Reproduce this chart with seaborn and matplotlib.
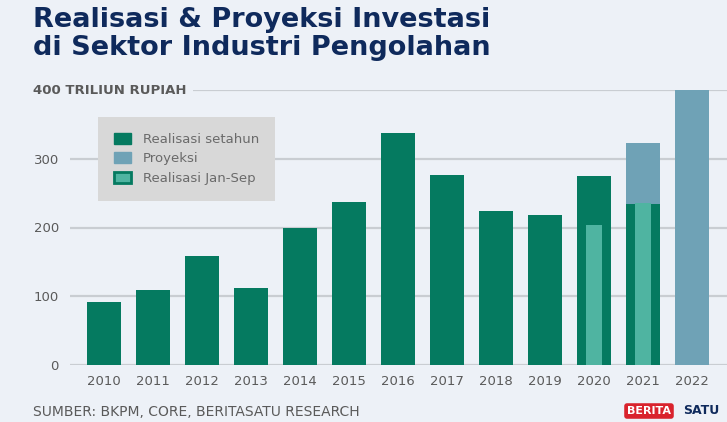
import matplotlib
matplotlib.use("Agg")
import matplotlib.pyplot as plt
import seaborn as sns
import pandas as pd
from matplotlib.patches import Patch

years = ["2010", "2011", "2012", "2013", "2014", "2015", "2016", "2017", "2018", "2019", "2020", "2021", "2022"]
real_years = ["2010", "2011", "2012", "2013", "2014", "2015", "2016", "2017", "2018", "2019", "2020", "2021"]
realisasi = [92, 109, 158, 112, 200, 237, 337, 276, 224, 218, 275, 234]
proj_years = ["2021", "2022"]
proyeksi = [323, 400]
jansep_years = ["2020", "2021"]
jansep = [203, 235]
yticks = [0, 100, 200, 300, 400]
ytick_labels = ["0", "100", "200", "300", "400 TRILIUN RUPIAH"]

BG = "#edf1f7"
DARK = "#057a60"
PROJ = "#6fa2b6"
LIGHT = "#4fb4a1"
NAVY = "#0f2a5c"
GRAY = "#5a5a5a"

sns.set_theme(style="white")
plt.rcParams["font.family"] = ["DejaVu Sans"]

fig = plt.figure(figsize=(7.27, 4.22), dpi=100, facecolor=BG)
ax = fig.add_axes([70 / 727, (422 - 365) / 422, 657 / 727, (365 - 90) / 422])
ax.set_facecolor(BG)

for y in yticks:
    ax.axhline(y, xmin=0, xmax=1, color="#c9cdd2", lw=1.6, zorder=0)

sns.barplot(x=proj_years, y=proyeksi, order=years, color=PROJ, width=0.69,
            saturation=1, linewidth=0, ax=ax, zorder=2)
sns.barplot(x=real_years, y=realisasi, order=years, color=DARK, width=0.69,
            saturation=1, linewidth=0, ax=ax, zorder=3)
sns.barplot(x=jansep_years, y=jansep, order=years, color=LIGHT, width=0.33,
            saturation=1, linewidth=0, ax=ax, zorder=4)

ax.set_xlim(-0.694, 12.714)
ax.set_ylim(0, 400)
for s in ax.spines.values():
    s.set_visible(False)
ax.set_yticks(yticks[:-1])
ax.set_yticklabels(ytick_labels[:-1], fontsize=9.5, color=GRAY)
ax.tick_params(axis="y", length=0, pad=8)
ax.tick_params(axis="x", length=0, pad=7, labelsize=9.5, labelcolor=GRAY)
ax.set_xlabel("")
ax.set_ylabel("")

# top label covering the 400 gridline start
fig.text(33 / 727, 1 - 90 / 422, ytick_labels[-1], fontsize=9.5, color=GRAY,
         fontweight="bold", va="center", ha="left",
         bbox=dict(facecolor=BG, edgecolor="none", pad=5))

handles = [
    Patch(facecolor=DARK, edgecolor=DARK, label="Realisasi setahun"),
    Patch(facecolor=PROJ, edgecolor=PROJ, label="Proyeksi"),
    Patch(facecolor=LIGHT, edgecolor=DARK, linewidth=2, label="Realisasi Jan-Sep"),
]
leg = ax.legend(handles=handles, loc="upper left",
                bbox_to_anchor=(98 / 727, 1 - 117 / 422), bbox_transform=fig.transFigure,
                frameon=True, fancybox=False, facecolor="#d8d8d8", edgecolor="none",
                framealpha=1, fontsize=9.5, labelcolor="#6a6a6a",
                handlelength=1.3, handleheight=0.9, handletextpad=0.9,
                labelspacing=0.5, borderpad=1.2, borderaxespad=0)
leg.set_zorder(10)
leg.get_frame().set_linewidth(0)

fig.text(33 / 727, 1 - 34 / 422, "Realisasi & Proyeksi Investasi\ndi Sektor Industri Pengolahan",
         fontsize=19.5, fontweight="heavy", color=NAVY, va="center", ha="left",
         linespacing=1.08)
fig.text(33 / 727, 1 - 412 / 422, "SUMBER: BKPM, CORE, BERITASATU RESEARCH",
         fontsize=10, color=GRAY, va="center", ha="left")
fig.text(627 / 727, 1 - 411 / 422, "BERITA", fontsize=8, color="white", fontweight="bold",
         va="center", ha="left",
         bbox=dict(boxstyle="round,pad=0.25", facecolor="#d9232d", edgecolor="none"))
fig.text(683 / 727, 1 - 411 / 422, "SATU", fontsize=9, color=NAVY, fontweight="bold",
         va="center", ha="left")

fig.savefig("out.png", dpi=100, facecolor=BG)
